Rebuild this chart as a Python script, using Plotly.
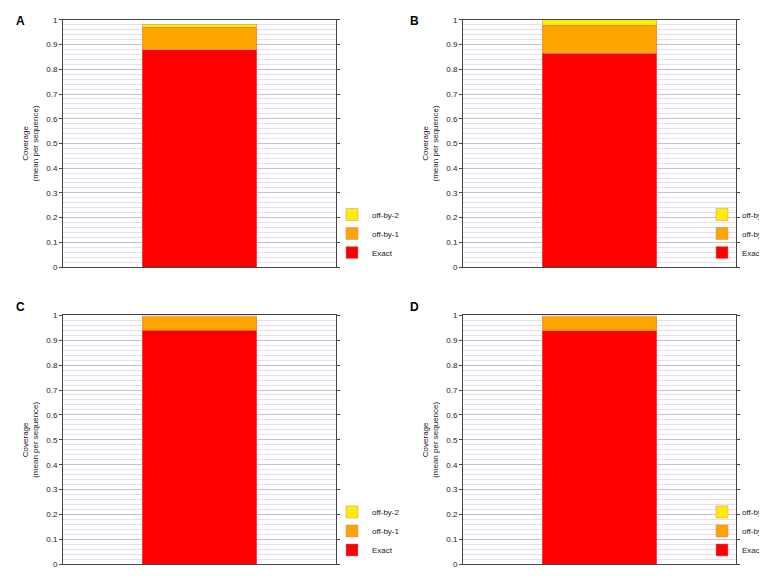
import plotly.graph_objects as go

panels = ["A", "B", "C", "D"]
exact = [0.880, 0.865, 0.940, 0.937]
off1 = [0.090, 0.113, 0.055, 0.058]
off2 = [0.013, 0.022, 0.003, 0.003]
series_names = ["Exact", "off-by-1", "off-by-2"]
colors = ["#ff0000", "#ffa500", "#ffee00"]
yticks = [0, 0.1, 0.2, 0.3, 0.4, 0.5, 0.6, 0.7, 0.8, 0.9, 1]
ytick_text = ["0", "0.1", "0.2", "0.3", "0.4", "0.5", "0.6", "0.7", "0.8", "0.9", "1"]

W, H = 767, 587
xdoms = [(55, 328), (455, 728)]
ydoms = [(8, 259), (308, 561)]
label_pos = [(6, 0), (400, 0), (6, 290), (400, 290)]

fig = go.Figure()
layout = dict(width=W, height=H, margin=dict(l=0, r=0, t=0, b=0),
              paper_bgcolor="white", plot_bgcolor="white", barmode="stack",
              font=dict(family="Liberation Sans, Arial", color="#222"), annotations=[])

for i, p in enumerate(panels):
    col, row = i % 2, i // 2
    sfx = "" if i == 0 else str(i + 1)
    vals = [exact[i], off1[i], off2[i]]
    for name, v, c in zip(series_names, vals, colors):
        fig.add_trace(go.Bar(x=[0.5], y=[v], name=name, width=0.42,
                             marker=dict(color=c, line=dict(color="#e08080", width=0.5)),
                             xaxis="x" + sfx, yaxis="y" + sfx,
                             legend="legend" + sfx, showlegend=True))
    x0, x1 = xdoms[col]
    y0, y1 = ydoms[row]
    layout["xaxis" + sfx] = dict(domain=[x0 / W, x1 / W], range=[0, 1], anchor="y" + sfx,
                                 showticklabels=False, showgrid=False, zeroline=False,
                                 showline=True, linecolor="#444", linewidth=1, mirror=True,
                                 fixedrange=True)
    layout["yaxis" + sfx] = dict(domain=[1 - y1 / H, 1 - y0 / H], range=[0, 1], anchor="x" + sfx,
                                 tickvals=yticks, ticktext=ytick_text,
                                 tickfont=dict(size=8), ticks="outside", ticklen=3,
                                 showline=True, linecolor="#444", linewidth=1, mirror="ticks",
                                 gridcolor="#c9bcdc", gridwidth=1, zeroline=False,
                                 minor=dict(dtick=0.02, showgrid=True, gridcolor="#e6def0", gridwidth=1),
                                 title=dict(text="Coverage<br>(mean per sequence)",
                                            font=dict(size=8), standoff=6))
    if col == 0:
        lx, lxa = (x1 + 8) / W, "left"
    else:
        lx, lxa = 1.0, "right"
    layout["legend" + sfx] = dict(x=lx, y=1 - y1 / H, xanchor=lxa, yanchor="bottom",
                                  traceorder="reversed", font=dict(size=8),
                                  bgcolor="rgba(0,0,0,0)", itemwidth=30, indentation=-12,
                                  tracegroupgap=0)
    ax, ay = label_pos[i]
    layout["annotations"].append(dict(text="<b>%s</b>" % p, x=ax / W, y=1 - ay / H,
                                      xref="paper", yref="paper", xanchor="left", yanchor="top",
                                      showarrow=False, font=dict(size=12, color="black")))

fig.update_layout(**layout)
fig.write_html("out.html")
